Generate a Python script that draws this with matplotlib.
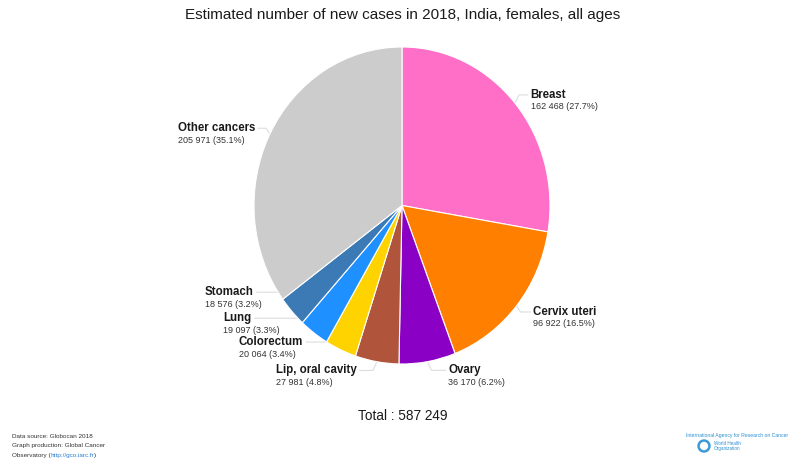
import numpy as np
import matplotlib.pyplot as plt
from matplotlib.patches import Circle

plt.rcParams['font.family'] = ['Liberation Sans', 'DejaVu Sans']

# Globocan 2018, India, females, all ages
sites = ["Breast", "Cervix uteri", "Ovary", "Lip, oral cavity",
         "Colorectum", "Lung", "Stomach", "Other cancers"]
cases = [162468, 96922, 36170, 27981, 20064, 19097, 18576, 205971]
percents = [27.7, 16.5, 6.2, 4.8, 3.4, 3.3, 3.2, 35.1]
colors = ["#ff6ec7", "#ff7f00", "#8a00c4", "#b0553b",
         "#ffd300", "#1e90ff", "#3b7ab5", "#cccccc"]
total = 587249

W, H = 792, 463
# pie centre and (slightly stretched) radii, px
cx, cy = 402, H - 205.5
rx, ry = 148, 158.5

# per-label nudges (px, y pointing down) away from the anchor on the 1.12 ring
nudges = [(2, 4), (3, -6), (18, -10), (-17, -10),
          (-30, -25), (-52, -30), (-25, -32), (1, 3)]

fig = plt.figure(figsize=(W / 100, H / 100), dpi=100)
ax = fig.add_axes([0, 0, 1, 1])
ax.set_xlim(0, W)
ax.set_ylim(0, H)
ax.axis("off")

pax = fig.add_axes([(cx - rx) / W, (cy - ry) / H, 2 * rx / W, 2 * ry / H])
wedges, _ = pax.pie(cases, colors=colors, startangle=90, counterclock=False,
                    radius=1, wedgeprops=dict(edgecolor="white", linewidth=0.8))
pax.set_aspect("auto")
pax.set_xlim(-1, 1)
pax.set_ylim(-1, 1)
pax.axis("off")

renderer = fig.canvas.get_renderer()

for w, name, n, pct, (dx, dy) in zip(wedges, sites, cases, percents, nudges):
    mid = np.deg2rad((w.theta1 + w.theta2) / 2)
    ex, ey = cx + rx * np.cos(mid), cy + ry * np.sin(mid)
    lx = cx + 1.12 * rx * np.cos(mid) + dx
    ly = cy + 1.12 * ry * np.sin(mid) - dy
    value = f"{n:,}".replace(",", " ") + f" ({pct}%)"
    if np.cos(mid) > 0:
        ax.text(lx, ly, name, ha="left", va="center", fontsize=8.3,
                fontweight="bold", color="#1a1a1a")
        ax.text(lx, ly - 12, value, ha="left", va="center", fontsize=6.5,
                color="#333333")
        ax.plot([ex, ex + 4, lx - 3], [ey, ly, ly], color="#dddddd", lw=0.8)
    else:
        t = ax.text(lx, ly, name, ha="right", va="center", fontsize=8.3,
                    fontweight="bold", color="#1a1a1a")
        bb = t.get_window_extent(renderer=renderer)
        ax.text(bb.x0, ly - 12, value, ha="left", va="center", fontsize=6.5,
                color="#333333")
        ax.plot([lx + 3, ex - 4, ex], [ly, ly, ey], color="#dddddd", lw=0.8)

ax.text(403, H - 15, "Estimated number of new cases in 2018, India, females, all ages",
        ha="center", va="center", fontsize=11, color="#1a1a1a")
ax.text(403, H - 416, f"Total : {total:,}".replace(",", " "),
        ha="center", va="center", fontsize=9.8, color="#1a1a1a")

# footer, source block
foot = dict(ha="left", va="center", fontsize=4.6, color="#333333")
ax.text(12, H - 437, "Data source: Globocan 2018", **foot)
ax.text(12, H - 446, "Graph production: Global Cancer", **foot)
t = ax.text(12, H - 455, "Observatory (", **foot)
bb = t.get_window_extent(renderer=renderer)
t2 = ax.text(bb.x1, H - 455, "http://gco.iarc.fr", ha="left", va="center",
             fontsize=4.6, color="#2a7fd4")
bb = t2.get_window_extent(renderer=renderer)
ax.text(bb.x1, H - 455, ")", **foot)

# footer, IARC / WHO marks
ax.text(788, H - 435, "International Agency for Research on Cancer", ha="right",
        va="center", fontsize=3.6, color="#2a8fd0")
ax.add_patch(Circle((704, H - 446), 6, color="#3a9ad9"))
ax.add_patch(Circle((704, H - 446), 3.5, color="white"))
ax.text(714, H - 446, "World Health\nOrganization", ha="left", va="center",
        fontsize=3.3, color="#2a8fd0", linespacing=1.0)

fig.savefig("out.png", dpi=100)
